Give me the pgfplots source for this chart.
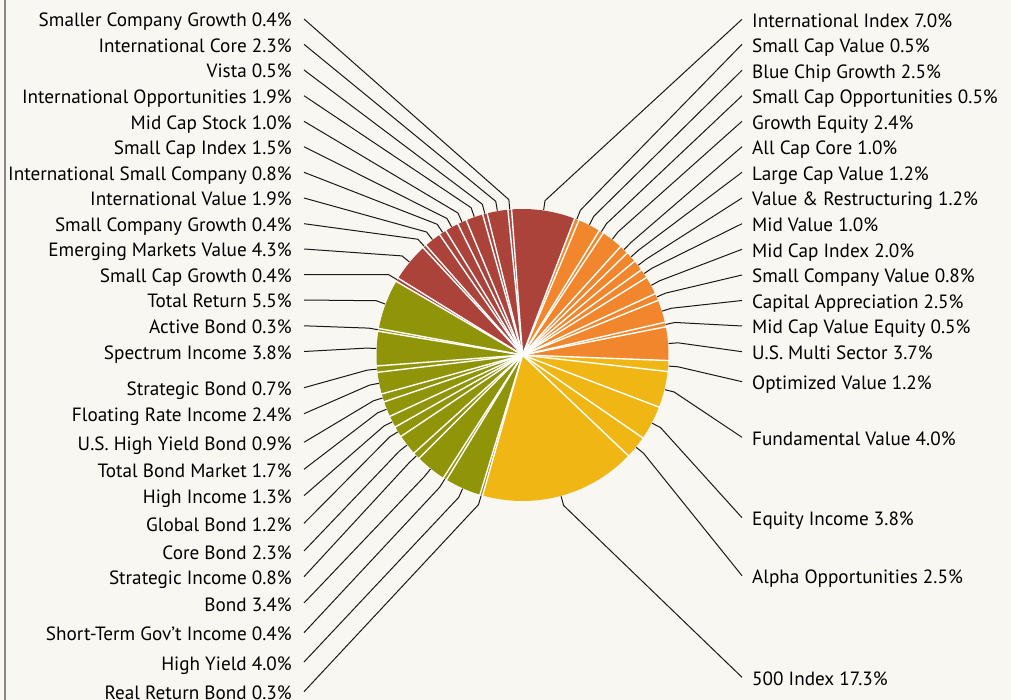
\documentclass[border=0pt]{standalone}
\usepackage{fontspec}
\setmainfont{PT Sans}
\usepackage{pgfplots}
\usepackage{pgfplotstable}
\pgfplotsset{compat=1.18}
\definecolor{bg}{HTML}{F9F7F1}
\definecolor{cR}{HTML}{AC433B}
\definecolor{cO}{HTML}{F1862D}
\definecolor{cY}{HTML}{F0B614}
\definecolor{cG}{HTML}{909408}
\definecolor{frameclr}{HTML}{8C8782}
\definecolor{leader}{HTML}{1A1A1A}

\pgfplotstableread[col sep=semicolon, row sep=\\]{
name;value;clr;ly\\
International Index;7.0;cR;19.3\\
Small Cap Value;0.5;cO;44.3\\
Blue Chip Growth;2.5;cO;70.3\\
Small Cap Opportunities;0.5;cO;95.7\\
Growth Equity;2.4;cO;121.3\\
All Cap Core;1.0;cO;146.7\\
Large Cap Value;1.2;cO;172.3\\
Value \& Restructuring;1.2;cO;198.0\\
Mid Value;1.0;cO;223.7\\
Mid Cap Index;2.0;cO;249.3\\
Small Company Value;0.8;cO;275.0\\
Capital Appreciation;2.5;cO;300.5\\
Mid Cap Value Equity;0.5;cO;326.0\\
U.S. Multi Sector;3.7;cO;351.7\\
Optimized Value;1.2;cY;381.7\\
Fundamental Value;4.0;cY;437.3\\
Equity Income;3.8;cY;517.7\\
Alpha Opportunities;2.5;cY;575.7\\
500 Index;17.3;cY;677.3\\
Real Return Bond;0.3;cG;691.7\\
High Yield;4.0;cG;662.0\\
Short-Term Gov't Income;0.4;cG;632.7\\
Bond;3.4;cG;603.0\\
Strategic Income;0.8;cG;576.7\\
Core Bond;2.3;cG;551.0\\
Global Bond;1.2;cG;523.3\\
High Income;1.3;cG;495.7\\
Total Bond Market;1.7;cG;469.3\\
U.S. High Yield Bond;0.9;cG;442.3\\
Floating Rate Income;2.4;cG;413.7\\
Strategic Bond;0.7;cG;387.7\\
Spectrum Income;3.8;cG;351.5\\
Active Bond;0.3;cG;325.8\\
Total Return;5.5;cG;300.0\\
Small Cap Growth;0.4;cR;274.5\\
Emerging Markets Value;4.3;cR;249.0\\
Small Company Growth;0.4;cR;223.7\\
International Value;1.9;cR;198.0\\
International Small Company;0.8;cR;172.3\\
Small Cap Index;1.5;cR;146.7\\
Mid Cap Stock;1.0;cR;121.3\\
International Opportunities;1.9;cR;95.7\\
Vista;0.5;cR;70.0\\
International Core;2.3;cR;44.3\\
Smaller Company Growth;0.4;cR;19.0\\
}\piedata

\def\cx{522.5}
\def\cy{355}
\def\rad{146}
\def\startang{94.3}

\tikzset{lbl/.style={font=\fontsize{19.2}{23}\selectfont, inner sep=0pt, text=black}}

\begin{document}
\begin{tikzpicture}
\useasboundingbox (0,0) rectangle (1011pt,700pt);
\clip (0,0) rectangle (1011pt,700pt);
\fill[bg] (0,0) rectangle (1011pt,700pt);
\begin{axis}[
  at={(0,0)}, anchor=south west,
  scale only axis, width=1011pt, height=700pt,
  xmin=0, xmax=1011, ymin=0, ymax=700, y dir=reverse,
  hide axis, clip=false,
]
\pgfplotstablegetrowsof{\piedata}
\pgfmathtruncatemacro{\N}{\pgfplotsretval-1}
% slices
\xdef\angstart{\startang}
\pgfplotsforeachungrouped \i in {0,...,\N}{%
  \pgfplotstablegetelem{\i}{value}\of{\piedata}\let\val\pgfplotsretval
  \pgfplotstablegetelem{\i}{clr}\of{\piedata}\let\clr\pgfplotsretval
  \pgfmathsetmacro{\aS}{\angstart}%
  \pgfmathsetmacro{\aE}{\angstart-3.6*\val}%
  \pgfmathtruncatemacro{\ns}{max(2,ceil(3.6*\val/1.5))}%
  \xdef\clist{(\cx,\cy)}%
  \foreach \k in {0,...,\ns}{%
     \pgfmathsetmacro{\ang}{\aS+(\aE-\aS)*\k/\ns}%
     \pgfmathsetmacro{\px}{\cx+\rad*cos(\ang)}%
     \pgfmathsetmacro{\py}{\cy-\rad*sin(\ang)}%
     \xdef\clist{\clist (\px,\py)}%
  }%
  \edef\cmd{\noexpand\addplot[fill=\clr, draw=none, forget plot] coordinates {\clist} -- cycle;}%
  \cmd
  \xdef\angstart{\aE}%
}
% separators, leaders and labels
\xdef\angstart{\startang}
\pgfplotsforeachungrouped \i in {0,...,\N}{%
  \pgfplotstablegetelem{\i}{value}\of{\piedata}\let\val\pgfplotsretval
  \pgfplotstablegetelem{\i}{name}\of{\piedata}\let\nm\pgfplotsretval
  \pgfplotstablegetelem{\i}{ly}\of{\piedata}\let\ly\pgfplotsretval
  \pgfmathsetmacro{\aE}{\angstart-3.6*\val}%
  \pgfmathsetmacro{\am}{\angstart-1.8*\val}%
  \pgfmathsetmacro{\sx}{\cx+(\rad+1)*cos(\angstart)}%
  \pgfmathsetmacro{\sy}{\cy-(\rad+1)*sin(\angstart)}%
  \edef\cmd{\noexpand\addplot[white, line width=1.4pt, forget plot] coordinates {(\cx,\cy) (\sx,\sy)};}%
  \cmd
  \pgfmathsetmacro{\ex}{\cx+(\rad+0.5)*cos(\am)}%
  \pgfmathsetmacro{\ey}{\cy-(\rad+0.5)*sin(\am)}%
  \pgfmathsetmacro{\bx}{\cx+(\rad+10)*cos(\am)}%
  \pgfmathsetmacro{\by}{\cy-(\rad+10)*sin(\am)}%
  \pgfmathsetmacro{\lyb}{\ly+8.0}%
  \pgfmathsetmacro{\cs}{cos(\am)}%
  \ifdim\cs pt>0pt
    \edef\cmd{\noexpand\addplot[leader, line width=1pt, line join=round, forget plot] coordinates {(742,\ly) (\bx,\by) (\ex,\ey)};
      \noexpand\node[lbl, anchor=base west] at (axis cs:752,\lyb) {\nm\noexpand\ \val\noexpand\%};}%
  \else
    \edef\cmd{\noexpand\addplot[leader, line width=1pt, line join=round, forget plot] coordinates {(304,\ly) (\bx,\by) (\ex,\ey)};
      \noexpand\node[lbl, anchor=base east] at (axis cs:292,\lyb) {\nm\noexpand\ \val\noexpand\%};}%
  \fi
  \cmd
  \xdef\angstart{\aE}%
}
\end{axis}
\draw[frameclr, line width=2pt] (5pt,0) -- (5pt,700pt);
\end{tikzpicture}
\end{document}
